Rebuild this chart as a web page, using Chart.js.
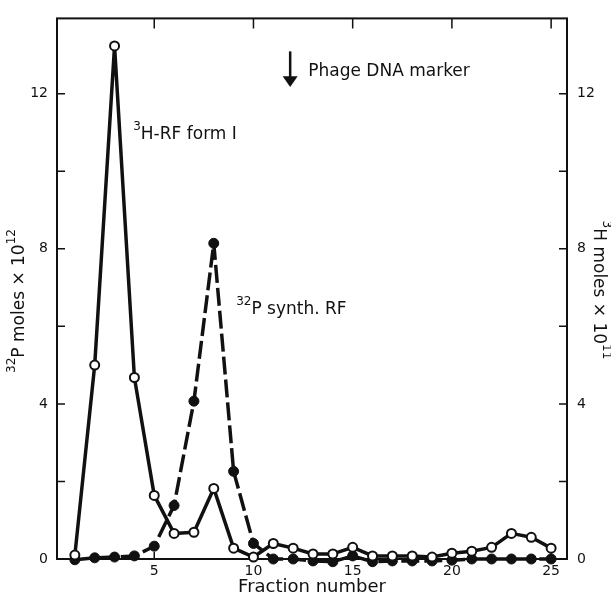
<!DOCTYPE html>
<html><head><meta charset="utf-8">
<script src="https://cdn.jsdelivr.net/npm/chart.js@4.4.1/dist/chart.umd.min.js"></script>
<style>html,body{margin:0;padding:0;background:#fff}#wrap{width:611px;height:597px}</style>
</head><body><div id="wrap"><canvas id="c" width="611" height="597"></canvas></div>
<script>
// ---- data ----
const fractions = [1,2,3,4,5,6,7,8,9,10,11,12,13,14,15,16,17,18,19,20,21,22,23,24,25];
const h3RF      = [0.10,5.00,13.23,4.68,1.64,0.66,0.69,1.82,0.28,0.05,0.40,0.28,0.13,0.13,0.30,0.08,0.08,0.08,0.05,0.15,0.20,0.30,0.66,0.56,0.28];
const p32Synth  = [-0.02,0.03,0.05,0.08,0.33,1.38,4.07,8.14,2.26,0.40,0.00,0.00,-0.05,-0.07,0.08,-0.07,-0.05,-0.05,-0.05,-0.03,0.00,0.00,0.00,0.00,0.00];
const xTickValues = [5,10,15,20,25];
const yTickValues = [0,4,8,12];
const yMinorTickValues = [0,2,4,6,8,10,12];
const xTitle = 'Fraction number';
const leftTitle = [{t:'32',sup:true},{t:'P moles × 10'},{t:'12',sup:true}];
const rightTitle = [{t:'3',sup:true},{t:'H moles × 10'},{t:'11',sup:true}];
const labelH3 = [{t:'3',sup:true},{t:'H-RF form I'}];
const labelP32 = [{t:'32',sup:true},{t:'P synth. RF'}];
const markerText = 'Phage DNA marker';

const FONT = '"DejaVu Sans", sans-serif';
const INK = '#111';

function richWidth(ctx, parts, size){
  let w = 0;
  for (const p of parts){
    ctx.font = (p.sup ? Math.round(size*0.68) : size) + 'px ' + FONT;
    w += ctx.measureText(p.t).width;
  }
  return w;
}
function drawRich(ctx, parts, x, y, size, align){
  const w = richWidth(ctx, parts, size);
  let cx = align === 'center' ? x - w/2 : x;
  ctx.textBaseline = 'middle';
  ctx.textAlign = 'left';
  ctx.fillStyle = INK;
  for (const p of parts){
    const s = p.sup ? Math.round(size*0.68) : size;
    ctx.font = s + 'px ' + FONT;
    ctx.fillText(p.t, cx, p.sup ? y - size*0.45 : y);
    cx += ctx.measureText(p.t).width;
  }
}

const framePlugin = {
  id: 'frame',
  beforeDatasetsDraw(chart){
    const {ctx, chartArea:a, scales} = chart;
    ctx.save();
    ctx.strokeStyle = INK;
    ctx.lineWidth = 2;
    ctx.strokeRect(a.left, a.top, a.right - a.left, a.bottom - a.top);
    ctx.lineWidth = 1.5;
    ctx.beginPath();
    for (const v of yMinorTickValues){
      const py = scales.y.getPixelForValue(v);
      ctx.moveTo(a.left, py); ctx.lineTo(a.left + 8, py);
      ctx.moveTo(a.right - 8, py); ctx.lineTo(a.right, py);
    }
    for (const v of xTickValues){
      const px = scales.x.getPixelForValue(v);
      ctx.moveTo(px, a.top); ctx.lineTo(px, a.top + 10);
      ctx.moveTo(px, a.bottom); ctx.lineTo(px, a.bottom - 7);
    }
    ctx.stroke();
    ctx.restore();
  },
  afterDraw(chart){
    const {ctx, chartArea:a, scales} = chart;
    const X = v => scales.x.getPixelForValue(v);
    const Y = v => scales.y.getPixelForValue(v);
    ctx.save();
    drawRich(ctx, labelH3, X(3.94), Y(10.95), 17, 'left');
    drawRich(ctx, labelP32, X(9.13), Y(6.44), 17, 'left');
    const ax = X(11.85);
    ctx.strokeStyle = INK; ctx.fillStyle = INK; ctx.lineWidth = 2.5;
    ctx.beginPath(); ctx.moveTo(ax, Y(13.09)); ctx.lineTo(ax, Y(12.4)); ctx.stroke();
    ctx.beginPath();
    ctx.moveTo(ax - 7.5, Y(12.45)); ctx.lineTo(ax + 7.5, Y(12.45)); ctx.lineTo(ax, Y(12.17)); ctx.closePath(); ctx.fill();
    ctx.font = '17px ' + FONT; ctx.textBaseline = 'middle'; ctx.textAlign = 'left';
    ctx.fillText(markerText, X(12.76), Y(12.58));
    ctx.font = '18px ' + FONT; ctx.textAlign = 'center';
    ctx.fillText(xTitle, (a.left + a.right)/2, 587);
    ctx.save(); ctx.translate(20, 301); ctx.rotate(-Math.PI/2);
    drawRich(ctx, leftTitle, 0, 0, 17, 'center'); ctx.restore();
    ctx.save(); ctx.translate(598, 290); ctx.rotate(Math.PI/2);
    drawRich(ctx, rightTitle, 0, 0, 17, 'center'); ctx.restore();
    ctx.restore();
  }
};

const tickFont = {family: FONT, size: 14};
function yScale(pos, width, pad){
  return {
    type: 'linear', position: pos, min: 0, max: 13.94,
    grid: {display: false, drawTicks: false}, border: {display: false},
    ticks: {font: tickFont, color: INK, padding: pad, callback: v => String(v)},
    afterBuildTicks: s => { s.ticks = yTickValues.map(v => ({value: v})); },
    afterFit: s => { s.width = width; }
  };
}

new Chart(document.getElementById('c'), {
  type: 'line',
  data: {
    datasets: [
      {
        label: '3H-RF form I', yAxisID: 'y2', order: 0,
        data: fractions.map((f, i) => ({x: f, y: h3RF[i]})),
        borderColor: INK, borderWidth: 3.5, tension: 0, fill: false, borderJoinStyle: 'round',
        pointRadius: 4.5, pointBorderWidth: 2, pointBackgroundColor: '#fff', pointBorderColor: INK,
        clip: 10
      },
      {
        label: '32P synth. RF', yAxisID: 'y', order: 1,
        data: fractions.map((f, i) => ({x: f, y: p32Synth[i]})),
        borderColor: INK, borderWidth: 3.5, borderDash: [18, 5], tension: 0, fill: false, borderJoinStyle: 'round',
        pointRadius: 5, pointBorderWidth: 1, pointBackgroundColor: INK, pointBorderColor: INK,
        clip: 10
      }
    ]
  },
  options: {
    responsive: false, animation: false, devicePixelRatio: 1,
    layout: {padding: {top: 15, left: 0, right: 0, bottom: 0}},
    plugins: {legend: {display: false}, tooltip: {enabled: false}},
    scales: {
      x: {
        type: 'linear', position: 'bottom', min: 0.1, max: 25.8,
        grid: {display: false, drawTicks: false}, border: {display: false},
        ticks: {font: tickFont, color: INK, padding: 4, autoSkip: false, maxRotation: 0, callback: v => String(v)},
        afterBuildTicks: s => { s.ticks = xTickValues.map(v => ({value: v})); },
        afterFit: s => { s.height = 38; }
      },
      y: yScale('left', 57, 9),
      y2: yScale('right', 44, 10)
    }
  },
  plugins: [framePlugin]
});
</script></body></html>
